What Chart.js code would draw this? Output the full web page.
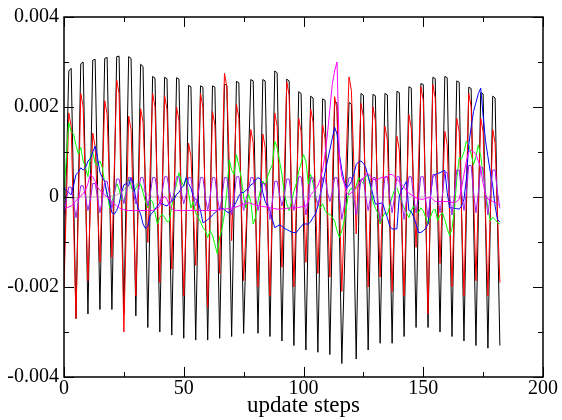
<!DOCTYPE html>
<html>
<head>
<meta charset="utf-8">
<script src="https://cdn.jsdelivr.net/npm/chart.js@4.4.1/dist/chart.umd.min.js"></script>
<style>
  html, body { margin: 0; padding: 0; background: #fff; }
  #wrap { width: 562px; height: 420px; }
</style>
</head>
<body>
<div id="wrap"><canvas id="chart" width="562" height="420"></canvas></div>
<script>
// series values, one per update step (0..182), in units of 1e-3
const black = [
  -1.60, 0.60, 2.80, 2.86, 0.08, -2.70, 0.13, 2.96, 3.00, 0.20,
  -2.60, 0.22, 3.04, 3.06, 0.28, -2.50, 0.29, 3.08, 3.10, 0.30,
  -2.50, 0.31, 3.12, 3.13, 0.27, -2.60, 0.26, 3.12, 3.08, 0.22,
  -2.64, 0.16, 2.95, 2.90, 0.00, -2.90, -0.11, 2.68, 2.64, -0.18,
  -3.00, -0.17, 2.66, 2.63, -0.22, -3.07, -0.21, 2.65, 2.62, -0.26,
  -3.14, -0.33, 2.48, 2.45, -0.37, -3.18, -0.36, 2.47, 2.44, -0.37,
  -3.18, -0.36, 2.47, 2.44, -0.35, -3.14, -0.32, 2.51, 2.48, -0.31,
  -3.10, -0.27, 2.57, 2.54, -0.25, -3.03, -1.15, 0.73, 2.61, 2.58,
  -0.23, -3.03, -0.21, 2.61, 2.58, -0.26, -3.10, -0.15, 2.80, 2.76,
  -0.22, -3.20, -0.29, 2.62, 2.58, -0.36, -3.30, -0.48, 2.34, 2.30,
  -0.55, -3.40, -0.58, 2.24, 2.20, -0.63, -3.45, -0.64, 2.18, 2.15,
  -0.68, -3.50, -0.69, 2.12, 2.09, -0.81, -3.70, -1.77, 0.17, 2.10,
  2.06, -0.77, -3.60, -0.65, 2.30, 2.26, -0.57, -3.40, -0.56, 2.28,
  2.25, -0.50, -3.25, -0.48, 2.30, 2.27, -0.49, -3.25, -0.45, 2.35,
  2.32, -0.39, -3.10, -0.33, 2.45, 2.42, -0.24, -2.90, -0.19, 2.52,
  2.50, -0.20, -2.90, -0.12, 2.66, 2.63, -0.19, -3.00, -0.16, 2.68,
  2.65, -0.23, -3.10, -0.26, 2.58, 2.55, -0.33, -3.20, -0.38, 2.44,
  2.41, -0.45, -3.30, -0.49, 2.32, 2.29, -0.54, -3.36, -0.56, 2.24,
  2.20, -0.55, -3.30
];

const red = [
  -2.00, -0.10, 1.87, 1.57, -0.57, -2.70, -0.20, 2.30, 2.00, 0.07,
  -1.86, -0.22, 1.42, 1.12, -0.17, -1.45, 0.35, 2.14, 1.84, 0.25,
  -1.34, 0.63, 2.60, 2.30, -0.35, -3.00, -0.60, 1.80, 1.50, -0.35,
  -2.20, -0.12, 1.96, 1.66, 0.33, -1.01, 0.65, 2.30, 2.00, 0.05,
  -1.90, 0.18, 2.25, 1.95, 0.18, -1.60, 0.20, 2.00, 1.70, -0.25,
  -2.20, -0.50, 1.20, 0.90, -0.31, -1.52, 0.39, 2.30, 2.00, -0.23,
  -2.45, -0.28, 1.90, 1.60, -0.05, -1.70, 0.53, 2.75, 2.45, 0.74,
  -0.97, 0.55, 2.06, 1.76, -0.05, -1.86, -0.74, 0.38, 1.50, 1.20,
  -0.40, -2.00, -0.30, 1.40, 1.10, -0.55, -2.20, -0.17, 1.87, 1.57,
  0.00, -1.56, 0.50, 2.56, 2.26, 0.13, -2.00, -0.13, 1.75, 1.45,
  0.00, -1.45, 0.26, 1.96, 1.66, -0.02, -1.70, -0.05, 1.60, 1.30,
  -0.24, -1.78, 0.23, 2.23, 1.93, -0.09, -2.10, -0.51, 1.08, 2.67,
  2.37, 0.78, -0.82, 0.63, 2.08, 1.78, -0.11, -2.00, 0.00, 2.00,
  1.70, -0.04, -1.78, -0.11, 1.57, 1.27, -0.42, -2.10, -0.38, 1.35,
  1.05, -0.58, -2.20, -0.19, 1.83, 1.53, 0.21, -1.12, 0.67, 2.45,
  2.15, -0.23, -2.60, -0.05, 2.50, 2.20, 0.36, -1.48, -0.01, 1.46,
  1.16, -0.42, -2.00, -0.13, 1.75, 1.45, -0.38, -2.20, 0.05, 2.30,
  2.00, 0.07, -1.86, -0.06, 1.75, 1.45, -0.38, -2.20, -0.35, 1.50,
  1.20, -0.35, -1.90
];

const green = [
  0.00, 0.90, 1.65, 1.45, 1.40, 1.15, 0.95, 1.10, 0.80, 0.65,
  0.45, 0.90, 1.00, 0.75, 0.70, 0.80, 0.65, 0.30, 0.10, -0.24,
  -0.10, 0.07, 0.30, 0.18, -0.05, -0.10, 0.13, 0.43, 0.25, 0.10,
  0.20, 0.29, 0.29, 0.10, -0.10, -0.24, -0.05, -0.10, -0.35, -0.60,
  -0.45, -0.38, -0.45, -0.55, -0.53, -0.20, 0.07, 0.30, 0.54, 0.35,
  0.24, 0.43, 0.10, -0.24, -0.10, -0.35, -0.45, -0.55, -0.68, -0.75,
  -0.90, -0.75, -0.85, -1.05, -1.26, -0.90, -0.70, -0.38, 0.10, 0.83,
  0.60, 0.50, 0.94, 0.70, 0.43, 0.00, -0.24, 0.07, -0.10, -0.60,
  -0.45, -0.10, 0.15, 0.35, 0.25, 0.45, 0.60, 0.72, 1.24, 1.10,
  0.80, 0.50, 0.07, -0.15, -0.30, -0.10, 0.13, 0.30, 0.57, 0.75,
  0.94, 0.80, 0.29, 0.50, 0.30, 0.00, -0.15, -0.24, -0.15, -0.30,
  -0.38, -0.38, -0.45, -0.53, -0.75, -0.90, -0.75, -0.53, -0.20, 0.13,
  0.20, 0.10, 0.25, 0.43, 0.35, 0.30, 0.45, 0.50, 0.20, -0.10,
  -0.25, -0.35, -0.60, -0.45, -0.35, -0.40, -0.20, 0.00, 0.15, 0.20,
  0.05, -0.10, -0.24, -0.35, -0.46, -0.30, -0.20, -0.30, -0.35, -0.24,
  -0.30, -0.45, -0.60, -0.45, -0.30, -0.27, -0.53, -0.40, -0.35, -0.50,
  -0.70, -0.86, -0.70, -0.30, 0.40, 0.87, 0.85, 1.00, 1.24, 1.15,
  0.95, 0.72, 0.90, 1.16, 0.90, 0.50, 0.10, -0.24, -0.53, -0.45,
  -0.50, -0.57, -0.60
];

const blue = [
  0.20, 0.15, 0.10, 0.05, 0.25, 0.50, 0.55, 0.65, 0.60, 0.65,
  0.80, 0.85, 1.00, 1.13, 0.87, 0.55, 0.43, 0.35, 0.05, -0.10,
  -0.35, -0.38, -0.30, -0.15, 0.10, 0.27, 0.30, 0.25, 0.43, 0.30,
  -0.05, -0.25, -0.38, -0.60, -0.70, -0.65, -0.40, -0.35, -0.27, -0.20,
  -0.13, -0.15, -0.18, -0.20, -0.13, -0.10, -0.05, 0.06, 0.10, 0.20,
  0.25, 0.43, 0.30, 0.20, 0.00, -0.05, -0.10, -0.30, -0.57, -0.55,
  -0.50, -0.46, -0.40, -0.35, -0.30, -0.24, -0.25, -0.28, -0.33, -0.35,
  -0.30, -0.20, -0.10, 0.02, 0.10, 0.10, 0.15, 0.20, 0.27, 0.30,
  0.38, 0.43, 0.40, 0.10, -0.10, -0.20, -0.30, -0.50, -0.68, -0.65,
  -0.62, -0.65, -0.70, -0.72, -0.75, -0.78, -0.79, -0.79, -0.72, -0.65,
  -0.60, -0.60, -0.60, -0.55, -0.45, -0.38, -0.20, 0.05, 0.27, 0.55,
  0.80, 1.05, 1.30, 1.55, 1.40, 0.94, 0.60, 0.35, 0.20, 0.25,
  0.35, 0.50, 0.72, 0.78, 0.80, 0.75, 0.65, 0.45, 0.27, 0.05,
  -0.16, -0.15, -0.14, -0.13, -0.30, -0.46, -0.65, -0.71, -0.71, -0.71,
  0.02, 0.15, 0.25, 0.35, -0.30, -0.32, -0.45, -0.60, -0.79, -0.79,
  -0.75, -0.70, -0.60, 0.00, 0.45, 0.50, 0.52, 0.54, 0.57, 0.59,
  0.10, -0.24, -0.24, -0.25, -0.26, -0.27, -0.20, -0.05, 0.40, 1.16,
  1.55, 1.90, 2.10, 2.30, 2.42, 1.80, 1.25, 0.90, 0.55, 0.25,
  -0.20, -0.50, -0.55
];

const magenta = [
  -0.24, -0.24, -0.22, -0.20, -0.15, -0.08, -0.03, 0.02, 0.08, 0.15,
  0.30, 0.50, 0.45, 0.35, 0.22, 0.15, 0.10, 0.05, 0.00, -0.05,
  -0.10, -0.15, -0.20, -0.24, -0.27, -0.28, -0.30, -0.30, -0.30, -0.30,
  -0.30, -0.30, -0.30, -0.30, -0.30, -0.30, -0.30, -0.30, -0.28, -0.25,
  -0.20, -0.05, 0.02, -0.05, -0.18, -0.26, -0.30, -0.30, -0.30, -0.30,
  -0.30, -0.30, -0.30, -0.30, -0.30, -0.30, -0.30, -0.30, -0.30, -0.30,
  -0.30, -0.30, -0.30, -0.30, -0.29, -0.28, -0.27, -0.27, -0.26, -0.26,
  -0.25, -0.24, -0.22, -0.20, -0.18, -0.16, -0.15, -0.13, -0.14, -0.16,
  -0.18, -0.20, -0.20, -0.21, -0.22, -0.22, -0.24, -0.25, -0.26, -0.27,
  -0.27, -0.26, -0.26, -0.25, -0.25, -0.24, -0.24, -0.24, -0.23, -0.22,
  -0.21, -0.20, -0.10, 0.05, 0.10, 0.17, 0.25, 0.40, 0.60, 0.95,
  1.40, 1.95, 2.50, 2.80, 3.00, 0.87, 0.45, 0.30, 0.10, 0.05,
  0.10, 0.13, 0.20, 0.28, 0.35, 0.42, 0.50, 0.52, 0.45, 0.40,
  0.38, 0.39, 0.42, 0.44, 0.43, 0.46, 0.50, 0.50, 0.45, 0.40,
  0.34, 0.28, 0.22, 0.14, 0.08, 0.05, 0.01, -0.02, -0.04, -0.05,
  -0.05, -0.03, -0.02, 0.00, -0.05, -0.10, -0.10, -0.10, -0.10, -0.10,
  -0.10, -0.10, -0.12, -0.12, -0.10, -0.05, 0.20, 0.50, 0.80, 1.00,
  1.05, 1.00, 0.95, 0.80, 0.65, 0.30, 0.05, -0.05, -0.05, -0.10,
  -0.12, -0.15, -0.20
];

const violet = [
  -0.40, -0.05,
  0.22, 0.22, -0.10, -0.46, -0.10,
  0.25, 0.25, 0.00, -0.30, -0.05,
  0.30, 0.30, 0.00, -0.35, -0.05,
  0.35, 0.35, 0.05, -0.25, 0.05,
  0.40, 0.40, 0.10, -0.15, 0.10,
  0.43, 0.43, 0.10, -0.15, 0.10,
  0.43, 0.43, 0.10, -0.20, 0.05,
  0.43, 0.43, 0.10, -0.15, 0.10,
  0.45, 0.45, 0.15, -0.10, 0.10,
  0.45, 0.45, 0.10, -0.15, 0.05,
  0.43, 0.43, 0.05, -0.20, 0.05,
  0.43, 0.43, 0.00, -0.30, 0.00,
  0.43, 0.43, 0.00, -0.30, 0.00,
  0.43, 0.43, 0.00, -0.40, -0.05,
  0.45, 0.45, 0.00, -0.30, -0.05, 0.15,
  0.43, 0.43, 0.00, -0.30, -0.05,
  0.30, 0.30, -0.10, -0.50, -0.10,
  0.35, 0.35, 0.05, -0.20, 0.05,
  0.40, 0.40, 0.00, -0.30, 0.00,
  0.45, 0.45, 0.00, -0.40, -0.05,
  0.43, 0.43, 0.05, -0.20, 0.05,
  0.43, 0.43, 0.10, -0.10, 0.10,
  0.43, 0.43, 0.00, -0.50, -0.20, 0.15,
  0.43, 0.43, 0.00, -0.40, -0.05,
  0.40, 0.40, 0.00, -0.30, 0.00,
  0.43, 0.43, -0.05, -0.55, -0.10,
  0.45, 0.45, 0.00, -0.35, 0.00,
  0.45, 0.45, -0.05, -0.50, -0.05,
  0.45, 0.45, 0.00, -0.35, 0.00,
  0.45, 0.45, -0.05, -0.45, 0.00,
  0.50, 0.50, 0.05, -0.35, 0.05,
  0.55, 0.55, 0.05, -0.40, 0.05,
  0.60, 0.60, 0.10, -0.30, 0.10,
  0.70, 0.70, 0.10, -0.35, 0.10,
  0.65, 0.65, 0.05, -0.40, 0.05,
  0.60, 0.60, 0.10, -0.25
];

const grey = [
  0.00, 0.00, -0.01, -0.02, -0.02, -0.02, -0.01, 0.00, 0.00, 0.00,
  0.00, 0.00, 0.00, 0.00, 0.00, 0.00, 0.00, 0.00, 0.01, 0.01,
  0.02, 0.03, 0.05, 0.08, 0.12, 0.16, 0.20, 0.24, 0.18, 0.22,
  0.28, 0.30, 0.25, 0.18, 0.10, 0.05, 0.02, 0.00, 0.00, 0.00,
  0.00, 0.00, 0.00, 0.00, 0.00, 0.00, 0.00, 0.00, 0.00, 0.00,
  0.00, 0.00, 0.00, 0.00, 0.00, 0.00, 0.00, 0.00, 0.00, 0.00,
  0.00, 0.00, 0.00, 0.00, 0.00, 0.00, 0.00, 0.00, 0.00, 0.00,
  0.00, 0.00, 0.00, 0.00, 0.00, 0.00, 0.00, 0.00, 0.00, 0.00,
  0.00, 0.00, 0.00, 0.00, 0.00, 0.00, 0.00, 0.00, 0.00, 0.00,
  0.00, 0.00, 0.00, 0.00, 0.00, 0.00, 0.00, 0.00, 0.00, 0.00,
  0.00, 0.00, 0.00, 0.00, 0.00, 0.00, 0.00, 0.00, 0.00, 0.00,
  0.00, 0.00, 0.00, 0.00, 0.00, 0.00, 0.00, 0.00, 0.00, 0.00,
  0.00, 0.00, 0.00, 0.00, 0.00, 0.00, 0.00, 0.00, 0.00, 0.00,
  0.00, 0.00, 0.00, 0.00, 0.00, 0.00, 0.00, 0.00, 0.00, 0.00,
  0.00, 0.00, 0.00, 0.00, 0.00, 0.00, 0.00, 0.00, 0.00, 0.00,
  0.00, 0.00, 0.00, 0.00, 0.00, 0.00, 0.00, 0.00, 0.00, 0.00,
  0.00, 0.00, 0.00, 0.00, 0.00, 0.00, 0.00, 0.00, 0.00, 0.00,
  0.00, 0.00, 0.00, 0.00, 0.00, 0.00, 0.00, 0.00, 0.00, 0.00,
  0.00, 0.00, 0.00
];

const UNIT = 0.001;

const xMajorTicks = [0, 50, 100, 150, 200];
const xMinorTicks = [25, 75, 125, 175];
const xTickLabels = ['0', '50', '100', '150', '200'];
const yMajorTicks = [-0.004, -0.002, 0, 0.002, 0.004];
const yMinorTicks = [-0.003, -0.001, 0.001, 0.003];
const yTickLabels = ['-0.004', '-0.002', '0', '0.002', '0.004'];
const xTitle = 'update steps';

const FONT = "'Liberation Serif', 'Times New Roman', serif";

function toPoints(arr) {
    return arr.map((v, i) => ({ x: i, y: v * UNIT }));
}

function line(data, color, order) {
    return {
        data: toPoints(data),
        borderColor: color,
        borderWidth: 1,
        pointRadius: 0,
        tension: 0,
        fill: false,
        order: order
    };
}

// grace style frame with inward major/minor ticks on all sides
const frameTicks = {
    id: 'frameTicks',
    afterDatasetsDraw(chart) {
        const { ctx, chartArea: a, scales: { x, y } } = chart;
        ctx.save();
        ctx.strokeStyle = '#000';
        ctx.lineWidth = 1;
        ctx.beginPath();
        const xMark = (v, len) => {
            const px = Math.round(x.getPixelForValue(v)) + 0.5;
            ctx.moveTo(px, a.bottom); ctx.lineTo(px, a.bottom - len);
            ctx.moveTo(px, a.top); ctx.lineTo(px, a.top + len);
        };
        const yMark = (v, len) => {
            const py = Math.round(y.getPixelForValue(v)) + 0.5;
            ctx.moveTo(a.left, py); ctx.lineTo(a.left + len, py);
            ctx.moveTo(a.right, py); ctx.lineTo(a.right - len, py);
        };
        xMajorTicks.forEach(v => xMark(v, 10));
        xMinorTicks.forEach(v => xMark(v, 5));
        yMajorTicks.forEach(v => yMark(v, 10));
        yMinorTicks.forEach(v => yMark(v, 5));
        ctx.stroke();
        ctx.lineWidth = 1.5;
        ctx.strokeRect(a.left, a.top, a.right - a.left, a.bottom - a.top);
        ctx.restore();
    }
};

new Chart(document.getElementById('chart'), {
    type: 'line',
    data: {
        datasets: [
            line(grey, '#c8a4a0', 8),
            line(black, '#000000', 7),
            line(red, '#ff0000', 6),
            line(green, '#00ff00', 5),
            line(blue, '#0000ff', 4),
            line(violet, '#a020f0', 3),
            line(magenta, '#ff00ff', 2)
        ]
    },
    options: {
        responsive: false,
        animation: false,
        events: [],
        layout: { padding: { top: 15, right: 19, left: 0, bottom: 0 } },
        plugins: { legend: { display: false }, tooltip: { enabled: false } },
        scales: {
            x: {
                type: 'linear',
                min: 0,
                max: 200,
                afterBuildTicks: s => { s.ticks = xMajorTicks.map(v => ({ value: v })); },
                afterFit: s => { s.height = 43; },
                grid: { display: false, drawTicks: false },
                border: { display: false },
                ticks: {
                    padding: 0,
                    color: '#000',
                    maxRotation: 0,
                    autoSkip: false,
                    font: { family: FONT, size: 20 },
                    callback: (v, i) => xTickLabels[i]
                },
                title: {
                    display: true,
                    text: xTitle,
                    color: '#000',
                    font: { family: FONT, size: 23 },
                    padding: { top: 0, bottom: 0 }
                }
            },
            y: {
                min: -0.004,
                max: 0.004,
                afterBuildTicks: s => { s.ticks = yMajorTicks.map(v => ({ value: v })); },
                afterFit: s => { s.width = 64; },
                grid: { display: false, drawTicks: false },
                border: { display: false },
                ticks: {
                    padding: 5,
                    color: '#000',
                    autoSkip: false,
                    font: { family: FONT, size: 20 },
                    callback: (v, i) => yTickLabels[i]
                }
            }
        }
    },
    plugins: [frameTicks]
});
</script>
</body>
</html>
